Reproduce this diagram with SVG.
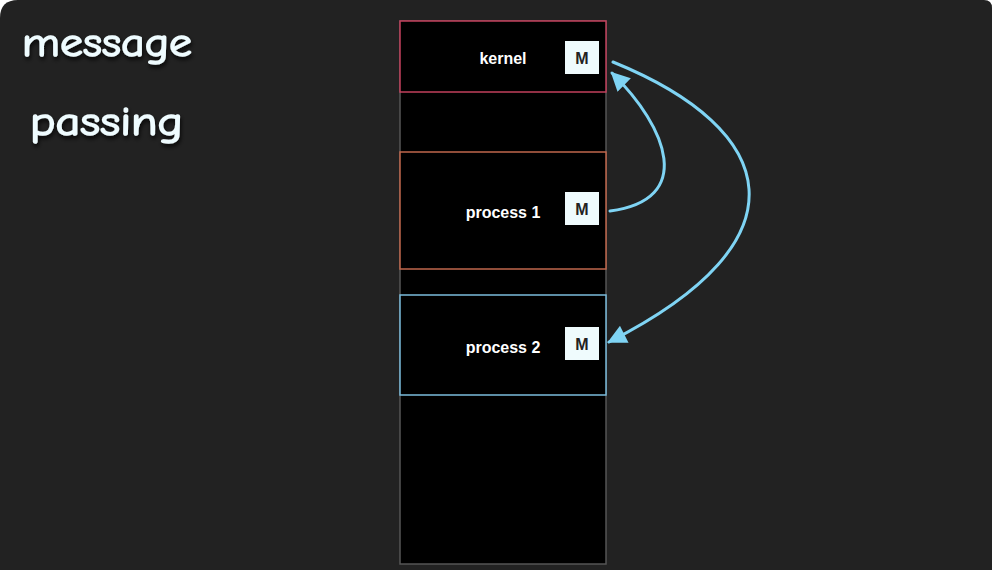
<svg xmlns="http://www.w3.org/2000/svg" width="992" height="570" viewBox="0 0 992 570">
  <defs>
    <style>
      .label { font-family: "Liberation Sans", Arial, sans-serif; font-weight: bold; font-size: 16px; fill: #ffffff; text-anchor: middle; dominant-baseline: central; }
      .m { font-family: "Liberation Sans", Arial, sans-serif; font-weight: bold; font-size: 16px; fill: #222222; text-anchor: middle; dominant-baseline: central; }
      .mbox { fill: #effbfd; }
      .title { font-family: "Comic Neue", "Comic Sans MS", "DejaVu Sans", sans-serif; font-size: 40px; font-weight: normal; fill: #effcff; stroke: #effcff; stroke-width: 1.4; }
      .conn { fill: none; stroke: #7fd4f4; stroke-width: 3; stroke-linecap: round; }
    </style>
    <filter id="shadow" x="-10%" y="-20%" width="120%" height="150%">
      <feDropShadow dx="1" dy="3" stdDeviation="2" flood-color="#000000" flood-opacity="0.8"/>
    </filter>
    <marker id="arrow" viewBox="0 0 10 10" refX="9" refY="5" markerWidth="20" markerHeight="19" markerUnits="userSpaceOnUse" orient="auto">
      <path d="M0,0 L10,5 L0,10 z" fill="#7fd4f4"/>
    </marker>
  </defs>

  <rect x="0" y="0" width="992" height="570" fill="#ffffff"/>
  <path d="M18,0 H984 Q992,0 992,8 V570 H0 V18 Q0,0 18,0 Z" fill="#222222"/>

  <g id="title" filter="url(#shadow)">
    <text class="title" x="22" y="56" textLength="170" lengthAdjust="spacingAndGlyphs">message</text>
    <text class="title" x="30" y="135" textLength="153" lengthAdjust="spacingAndGlyphs">passing</text>
  </g>

  <g id="memory">
    <rect x="400" y="21" width="206" height="543" fill="#000000" stroke="#555555" stroke-width="1.5"/>
  </g>

  <g id="kernel">
    <rect x="400" y="21" width="206" height="71" fill="#000000" stroke="#c2405c" stroke-width="1.5"/>
    <text class="label" x="503" y="58">kernel</text>
    <rect class="mbox" x="565" y="41" width="34" height="33"/>
    <text class="m" x="582" y="58">M</text>
  </g>

  <g id="process1">
    <rect x="400" y="152" width="206" height="117" fill="#000000" stroke="#c0674c" stroke-width="1.5"/>
    <text class="label" x="503" y="212">process 1</text>
    <rect class="mbox" x="565" y="192" width="34" height="33"/>
    <text class="m" x="582" y="209">M</text>
  </g>

  <g id="process2">
    <rect x="400" y="295" width="206" height="100" fill="#000000" stroke="#7bbcdc" stroke-width="1.5"/>
    <text class="label" x="503" y="347">process 2</text>
    <rect class="mbox" x="565" y="327" width="34" height="33"/>
    <text class="m" x="582" y="344">M</text>
  </g>

  <g id="connectors">
    <path class="conn" d="M610,211 C695,200 668,128 612,73" marker-end="url(#arrow)"/>
    <path class="conn" d="M613,62 C780,130 810,240 609,342" marker-end="url(#arrow)"/>
  </g>
</svg>
